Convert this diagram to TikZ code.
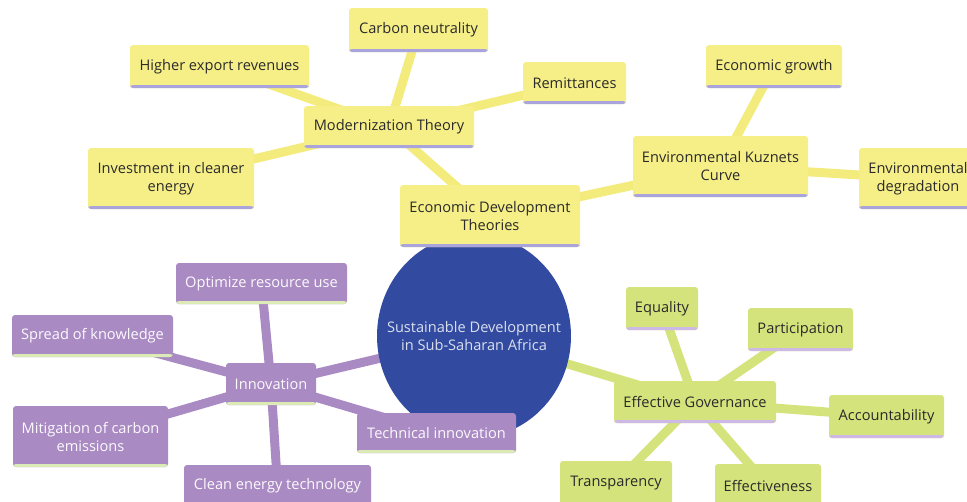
\documentclass[tikz,border=0pt]{standalone}
\usepackage{fontspec}
\setmainfont{Open Sans}
\usepackage{xcolor}
\usetikzlibrary{positioning,calc,shapes.geometric,backgrounds}

\definecolor{yelfill}{HTML}{F6EF88}
\definecolor{yelline}{HTML}{F3EB7C}
\definecolor{lavline}{HTML}{A9A4DC}
\definecolor{purfill}{HTML}{A98AC3}
\definecolor{purbase}{HTML}{DCEBB5}
\definecolor{grnfill}{HTML}{D5E37C}
\definecolor{grnbase}{HTML}{CDB8E6}
\definecolor{hubblue}{HTML}{324BA0}
\definecolor{darktxt}{HTML}{2A2A2A}

\begin{document}
\begin{tikzpicture}[
  x=1pt, y=-1pt,
  box/.style={rectangle, rounded corners=3pt, inner sep=2pt, align=center,
    font=\fontsize{14.6}{18}\selectfont},
  yel/.style={box, fill=yelfill, text=darktxt,
    path picture={\fill[lavline] ([yshift=3pt]path picture bounding box.south west)
      rectangle (path picture bounding box.south east);}},
  pur/.style={box, fill=purfill, text=white!96!purfill,
    path picture={\fill[purbase] ([yshift=3pt]path picture bounding box.south west)
      rectangle (path picture bounding box.south east);}},
  grn/.style={box, fill=grnfill, text=darktxt,
    path picture={\fill[grnbase] ([yshift=3pt]path picture bounding box.south west)
      rectangle (path picture bounding box.south east);}},
  hub/.style={ellipse, fill=hubblue, minimum width=194, minimum height=204,
    inner sep=0pt},
  hubtext/.style={text=white!82!hubblue, align=center,
    font=\fontsize{14.6}{18}\selectfont},
  link/.style={line width=9pt},
]
\useasboundingbox (0,0) rectangle (967,501);
\clip (0,0) rectangle (967,501);

% Hub
\node[hub] (hub) at (474,336) {};
\node[hubtext] (hublabel) at (hub.center)
  {Sustainable Development\\in Sub-Saharan Africa};

% Economic development theories (yellow)
\node[yel, minimum width=180, minimum height=62] (edt) at (490,216)
  {Economic Development\\Theories};
\node[yel, minimum width=170, minimum height=42] (modern) at (389,127)
  {Modernization Theory};
\node[yel, minimum width=139, minimum height=44] (carbon) at (418.5,30)
  {Carbon neutrality};
\node[yel, minimum width=179, minimum height=43] (export) at (219.5,66.5)
  {Higher export revenues};
\node[yel, minimum width=103, minimum height=42] (remit) at (574.5,83)
  {Remittances};
\node[yel, minimum width=166, minimum height=61] (invest) at (171,178.5)
  {Investment in cleaner\\energy};
\node[yel, minimum width=175, minimum height=61] (ekc) at (720.5,166.5)
  {Environmental Kuznets\\Curve};
\node[yel, minimum width=136, minimum height=43] (growth) at (774,66.5)
  {Economic growth};
\node[yel, minimum width=118, minimum height=61] (degrad) at (918,178.5)
  {Environmental\\degradation};

% Innovation (purple)
\node[pur, minimum width=90, minimum height=42] (innov) at (271,384)
  {Innovation};
\node[pur, minimum width=171, minimum height=41] (optim) at (261.5,283.5)
  {Optimize resource use};
\node[pur, minimum width=161, minimum height=42] (spread) at (92.5,336)
  {Spread of knowledge};
\node[pur, minimum width=155, minimum height=61] (mitig) at (90.5,436.5)
  {Mitigation of carbon\\emissions};
\node[pur, minimum width=159, minimum height=40] (techn) at (436.5,433)
  {Technical innovation};
\node[pur, minimum width=187, minimum height=42] (clean) at (277.5,486)
  {Clean energy technology};

% Effective governance (green)
\node[grn, minimum width=162, minimum height=42] (effgov) at (695,402)
  {Effective Governance};
\node[grn, minimum width=72, minimum height=43] (equal) at (662,308.5)
  {Equality};
\node[grn, minimum width=105, minimum height=43] (partic) at (800.5,329.5)
  {Participation};
\node[grn, minimum width=115, minimum height=43] (account) at (886.5,416.5)
  {Accountability};
\node[grn, minimum width=112, minimum height=44] (transp) at (616,483)
  {Transparency};
\node[grn, minimum width=106, minimum height=44] (effect) at (768,486)
  {Effectiveness};

% Links
\begin{scope}[on background layer]
\foreach \a/\b in {hub/edt, edt/modern, modern/carbon, modern/export,
  modern/remit, modern/invest, edt/ekc, ekc/growth, ekc/degrad}
  \draw[link, yelline] (\a.center) -- (\b.center);
\foreach \a/\b in {hub/innov, innov/optim, innov/spread, innov/mitig,
  innov/techn, innov/clean}
  \draw[link, purfill] (\a.center) -- (\b.center);
\foreach \a/\b in {hub/effgov, effgov/equal, effgov/partic,
  effgov/account, effgov/transp, effgov/effect}
  \draw[link, grnfill] (\a.center) -- (\b.center);
\end{scope}
\end{tikzpicture}
\end{document}
